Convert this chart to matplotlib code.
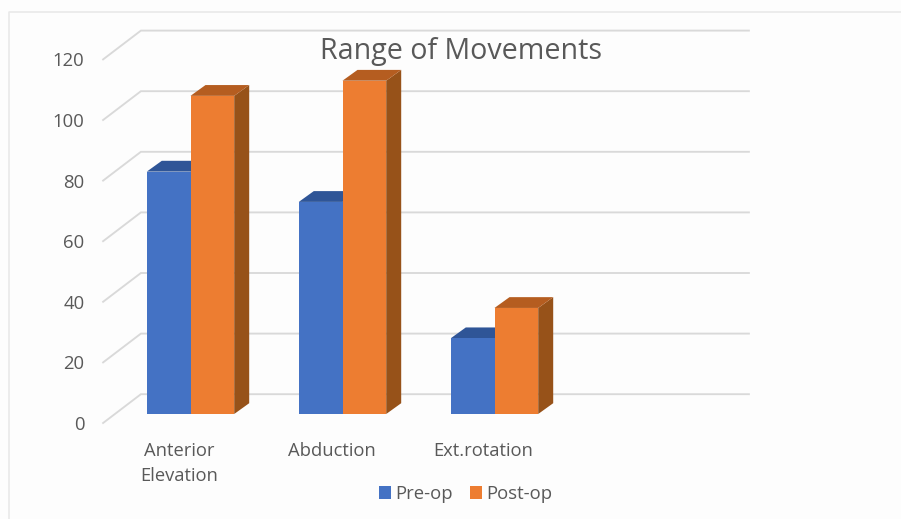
import matplotlib
matplotlib.use("Agg")
import matplotlib.pyplot as plt
from matplotlib.patches import Polygon, Rectangle
from matplotlib.lines import Line2D

plt.rcParams['font.family'] = ['Open Sans', 'DejaVu Sans']

categories = ["Anterior\nElevation", "Abduction", "Ext.rotation"]
pre_op = [80, 70, 25]
post_op = [105, 110, 35]
y_ticks = [0, 20, 40, 60, 80, 100, 120]
series_names = ["Pre-op", "Post-op"]

W, H = 901, 519
TEXT = "#595959"
GRID = "#D9D9D9"
BLUE = ("#4472C4", "#2F5597", "#264478")
ORANGE = ("#ED7D31", "#B55D20", "#975219")

fig = plt.figure(figsize=(W / 100, H / 100), dpi=100, facecolor="#FDFDFD")

# Axes spans the plane holding the bar fronts; pixel placement of the chart area
left, right, bottom, top = 114.5, 722.5, 414.0, 50.4
ax = fig.add_axes([left / W, 1 - bottom / H, (right - left) / W, (bottom - top) / H])
ax.set_xlim(-0.5, 3.5)
ax.set_ylim(0, 120)
ax.axis("off")

px_x = (right - left) / 4          # pixels per category
px_y = (bottom - top) / 120        # pixels per value unit
bar_w = 43.7 / px_x
depth_x, depth_y = 15.0 / px_x, 10.8 / px_y      # bar depth
gap_x, gap_y = 11.4 / px_x, 9.0 / px_y           # floor margin in front of and behind the bars

# Outer chart frame
fig.add_artist(Line2D([8.5 / W, 8.5 / W, 1], [0, 1 - 11.5 / H, 1 - 11.5 / H],
                      color="#E8E8E8", lw=1.1))

# Gridlines run from the front edge of the floor to the back wall, then across it
for v in y_ticks:
    ax.plot([-0.5 - gap_x, -0.5 + depth_x + gap_x, 3.5 + depth_x + gap_x],
            [v - gap_y, v + depth_y + gap_y, v + depth_y + gap_y],
            color=GRID, lw=1.35, clip_on=False, zorder=1, solid_joinstyle="miter")
    ax.annotate(str(v), xy=(-0.5, v), xytext=(-30, -11), textcoords="offset pixels",
                ha="right", va="center", fontsize=13.3, color=TEXT, annotation_clip=False)


def draw_bar(x0, value, shades, z):
    front, upper, side = shades
    x1 = x0 + bar_w
    ax.add_patch(Polygon([(x1, 0), (x1 + depth_x, depth_y), (x1 + depth_x, value + depth_y), (x1, value)],
                         closed=True, fc=side, ec="none", zorder=z, clip_on=False))
    ax.add_patch(Polygon([(x0, value), (x0 + depth_x, value + depth_y),
                          (x1 + depth_x, value + depth_y), (x1, value)],
                         closed=True, fc=upper, ec="none", zorder=z, clip_on=False))
    ax.bar(x0, value, width=bar_w, align="edge", color=front, zorder=z + 0.1, clip_on=False)


for i, (a, b) in enumerate(zip(pre_op, post_op)):
    draw_bar(i - bar_w, a, BLUE, 2)
    draw_bar(i, b, ORANGE, 3)

# Category labels hang from a common top line, centred on the front of the floor
for i, name in enumerate(categories):
    ax.annotate(name, xy=(i, 0), xytext=(-11, -28), textcoords="offset pixels",
                ha="center", va="top", fontsize=13.2, color=TEXT,
                linespacing=1.49, annotation_clip=False)

fig.text(460.5 / W, 1 - 52 / H, "Range of Movements", ha="center", va="center",
         fontsize=20.6, color=TEXT)

handles = [Rectangle((0, 0), 1, 1, fc=BLUE[0], ec="none"),
           Rectangle((0, 0), 1, 1, fc=ORANGE[0], ec="none")]
fig.legend(handles, series_names, loc="center", bbox_to_anchor=(465.5 / W, 1 - 494 / H),
           ncol=2, frameon=False, fontsize=13.3, labelcolor=TEXT,
           handlelength=0.65, handleheight=0.65, handletextpad=0.25, columnspacing=0.9)

fig.savefig("out.png", dpi=100, facecolor=fig.get_facecolor())
